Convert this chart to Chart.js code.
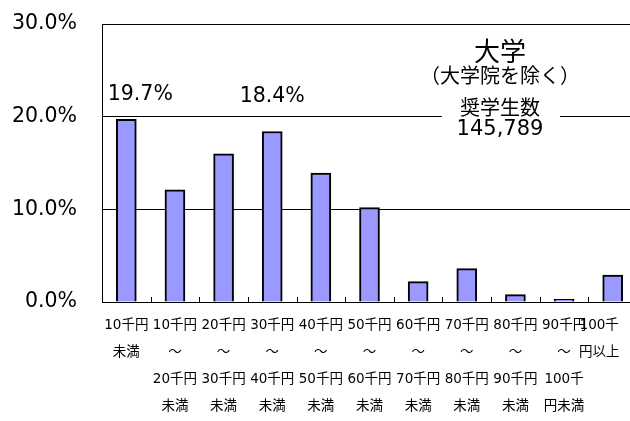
<!DOCTYPE html>
<html>
<head>
<meta charset="utf-8">
<script src="https://cdn.jsdelivr.net/npm/chart.js@4"></script>
<style>
  html, body { margin: 0; padding: 0; background: #fff; overflow: hidden; }
  #wrap { width: 640px; height: 421px; }
</style>
</head>
<body>
<div id="wrap"><canvas id="chart" width="640" height="421"></canvas></div>
<script>
// Data
const categories = [
    ['10千円', '未満'],
    ['10千円', '～', '20千円', '未満'],
    ['20千円', '～', '30千円', '未満'],
    ['30千円', '～', '40千円', '未満'],
    ['40千円', '～', '50千円', '未満'],
    ['50千円', '～', '60千円', '未満'],
    ['60千円', '～', '70千円', '未満'],
    ['70千円', '～', '80千円', '未満'],
    ['80千円', '～', '90千円', '未満'],
    ['90千円', '～', '100千', '円未満'],
    ['100千\u3000\u3000', '円以上\u3000\u3000']
];
const shares = [19.7, 12.1, 16.0, 18.4, 13.9, 10.2, 2.2, 3.6, 0.8, 0.3, 2.9];
const yTicks = [0, 10, 20, 30];

// Callouts for the two highest bars: [category index, text, x offset from bar centre, y px]
const callouts = [
    [0, '19.7%', 14, 95],
    [3, '18.4%', 0, 97]
];
const titleLines = [
    ['大学', 26, 54],
    ['（大学院を除く）', 20, 78],
    ['奨学生数', 20, 110],
    ['145,789', 21, 130]
];

const NUM_FONT = "'DejaVu Sans', 'Noto Sans CJK JP', sans-serif";

// Short tick marks pointing up from the x axis, between categories
const innerTicks = {
    id: 'innerTicks',
    afterDatasetsDraw(chart) {
        const { ctx, chartArea, scales } = chart;
        const x = scales.x;
        ctx.save();
        ctx.strokeStyle = '#000';
        ctx.lineWidth = 1;
        for (let i = 1; i <= categories.length; i++) {
            let px;
            if (i < categories.length) {
                px = (x.getPixelForValue(i - 1) + x.getPixelForValue(i)) / 2;
            } else {
                px = x.getPixelForValue(i - 1) + (x.getPixelForValue(1) - x.getPixelForValue(0)) / 2;
            }
            px = Math.round(px) + 0.5;
            ctx.beginPath();
            ctx.moveTo(px, chartArea.bottom - 5);
            ctx.lineTo(px, chartArea.bottom);
            ctx.stroke();
        }
        ctx.restore();
    }
};

// Value callouts and the title block
const labelsPlugin = {
    id: 'labelsPlugin',
    afterDraw(chart) {
        const { ctx, scales } = chart;
        const x = scales.x;
        ctx.save();
        ctx.fillStyle = '#000';
        ctx.textBaseline = 'middle';
        ctx.textAlign = 'center';
        ctx.font = '20.5px ' + NUM_FONT;
        callouts.forEach(([idx, text, dx, y]) => {
            ctx.fillText(text, x.getPixelForValue(idx) + dx, y);
        });

        // white box hiding the 20% line behind the title
        const cx = 500;
        ctx.fillStyle = '#fff';
        ctx.fillRect(442, 94, 118, 48);
        ctx.fillStyle = '#000';
        titleLines.forEach(([text, size, y]) => {
            ctx.font = size + 'px ' + NUM_FONT;
            ctx.fillText(text, cx, y);
        });
        ctx.restore();
    }
};

const ctx = document.getElementById('chart').getContext('2d');
const chart = new Chart(ctx, {
    type: 'bar',
    data: {
        labels: categories,
        datasets: [{
            data: shares,
            backgroundColor: '#9999FF',
            borderColor: '#000',
            borderWidth: 2,
            barThickness: 20
        }]
    },
    options: {
        responsive: false,
        animation: false,
        layout: { padding: { top: 24, right: 3, left: 0, bottom: 0 } },
        plugins: {
            legend: { display: false },
            tooltip: { enabled: false }
        },
        scales: {
            x: {
                grid: { display: false, drawTicks: false },
                border: { display: true, color: '#000', width: 1 },
                ticks: {
                    autoSkip: false,
                    maxRotation: 0,
                    minRotation: 0,
                    padding: 10,
                    color: '#000',
                    font: { family: NUM_FONT, size: 13.5, lineHeight: '27px' }
                },
                afterFit: scale => {
                    scale.height = 119;
                    scale.paddingLeft = 0;
                    scale.paddingRight = 0;
                }
            },
            y: {
                min: 0,
                max: 30,
                afterBuildTicks: scale => { scale.ticks = yTicks.map(v => ({ value: v })); },
                grid: { color: '#000', lineWidth: 1, drawTicks: false },
                border: { display: true, color: '#000', width: 1 },
                ticks: {
                    padding: 25,
                    color: '#000',
                    font: { family: NUM_FONT, size: 20.5 },
                    callback: v => v.toFixed(1) + '%'
                },
                afterFit: scale => {
                    scale.width = 102;
                    scale.paddingTop = 0;
                    scale.paddingBottom = 0;
                }
            }
        }
    },
    plugins: [innerTicks, labelsPlugin]
});
</script>
</body>
</html>
